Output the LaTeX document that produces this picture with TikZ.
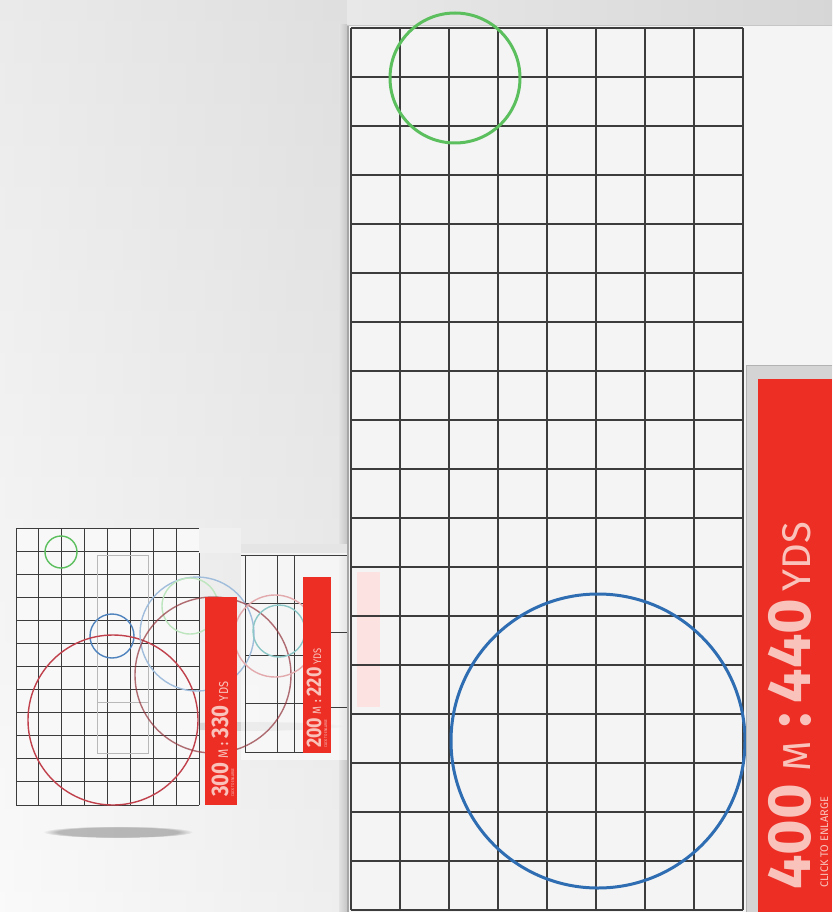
\documentclass[tikz,border=0pt]{standalone}
\usepackage{fontspec}
\setmainfont{Fira Sans}
\newfontfamily\labfont{Fira Sans}
\newfontfamily\smallfont[FakeStretch=0.85]{Fira Sans}
\usetikzlibrary{fadings}
\definecolor{bgtop}{HTML}{E2E2E2}
\definecolor{bgbot}{HTML}{F8F8F8}
\definecolor{panelc}{HTML}{F4F4F4}
\definecolor{gridc}{HTML}{3C3C3C}
\definecolor{redc}{HTML}{EC2E25}
\definecolor{txtc}{HTML}{F9C3BB}
\definecolor{greenc}{HTML}{5BBF5E}
\definecolor{bluec}{HTML}{2F6DB2}
\definecolor{rosec}{HTML}{C0414C}
\definecolor{frameg}{HTML}{D4D4D4}
\tikzset{
  bigline/.style={draw=gridc, line width=1.1pt},
  smallline/.style={draw=gridc, line width=1pt},
  faintline/.style={draw=gray!55, line width=0.8pt},
  ring/.style={line width=3pt},
  thinring/.style={line width=1.4pt},
  labeltext/.style={rotate=90, anchor=base west, inner sep=0pt, text=txtc, font=\labfont},
  smalltext/.style={rotate=90, anchor=base west, inner sep=0pt, text=txtc, font=\smallfont},
}
\begin{document}
\begin{tikzpicture}[x=1pt,y=-1pt]
\useasboundingbox (0,0) rectangle (832,912);
% background
\shade[top color=bgtop, bottom color=bgbot] (0,0) rectangle (832,912);
\shade[left color=white, right color=gray!30, opacity=0.3] (0,0) rectangle (347,912);
% top band behind big panel
\shade[left color=gray!18, right color=gray!32] (347,0) rectangle (832,26);
% big panel
\fill[panelc] (347,25) rectangle (832,912);
\shade[left color=bgtop, right color=gray!45] (339,25) rectangle (347,912);
\draw[gray!70, line width=1.2pt] (348,25) -- (348,912);
\draw[gray!45, line width=1pt] (347,25.5) -- (832,25.5);
% faint pink reflection
\fill[redc!14] (357,572) rectangle (380,707);
% big grid: 8 x 18 cells of 49
\foreach \i in {0,...,8} \draw[bigline] (351+49*\i,28) -- (351+49*\i,910);
\foreach \j in {0,...,18} \draw[bigline] (351,28+49*\j) -- (743,28+49*\j);
% big circles
\draw[greenc, ring] (455,78) circle (65);
\draw[bluec, ring] (598,741) circle (147);
% label frame
\fill[frameg] (746,365) rectangle (832,912);
\draw[gray!60, line width=1pt] (746.5,365) -- (746.5,912);
\draw[gray!60, line width=1pt] (746,365.5) -- (832,365.5);
\fill[redc] (758,379) rectangle (832,912);
\node[labeltext] (t400) at (810,890) {\fontsize{61}{61}\selectfont\bfseries 400\hspace{12pt}\fontsize{39}{39}\selectfont\mdseries M\hspace{14pt}\fontsize{61}{61}\selectfont\bfseries:\hspace{10pt}\fontsize{61}{61}\selectfont\bfseries 440\hspace{7pt}\fontsize{40}{40}\selectfont\mdseries YDS};
\node[labeltext, font=\labfont\fontsize{11}{11}\selectfont] (s400) at (828,888) {CLICK TO ENLARGE};

% ---------- left thumbnails ----------
% shadows
\fill[black, opacity=0.25, path fading=circle with fuzzy edge 20 percent] (118,832) ellipse (75 and 6);
\fill[black, opacity=0.10, path fading=circle with fuzzy edge 20 percent] (250,726) ellipse (95 and 5);
% grid A: 8 x 12
\fill[panelc!60!white] (16,528) rectangle (199,805);
\foreach \i in {0,...,8} \draw[smallline] (16+22.875*\i,528) -- (16+22.875*\i,805);
\foreach \j in {0,...,12} \draw[smallline] (16,528+23.083*\j) -- (199,528+23.083*\j);
\draw[faintline] (97,555) rectangle (148,753);
\draw[faintline] (97,702) -- (148,702);
\draw[greenc, thinring] (61,552) circle (16);
\draw[bluec!85, thinring] (112,636) circle (22);
\draw[rosec, thinring] (113,720) circle (85);
% header strips
\fill[gray!12] (199,528) rectangle (241,553);
\fill[gray!20] (241,544) rectangle (347,555);
% 200m panel
\fill[white, opacity=0.55] (241,553) rectangle (347,760);
\draw[smallline] (241,555) -- (347,555);
\foreach \x in {245,277,294} \draw[smallline] (\x,555) -- (\x,752);
\foreach \y in {603,655,703,752} \draw[smallline] (245,\y) -- (303,\y);
\foreach \y in {632,707} \draw[smallline] (331,\y) -- (347,\y);
% faint circles of middle thumbnails
\draw[bluec!45, thinring] (197,634) circle (57);
\draw[greenc!40, thinring] (190,606) circle (28);
\draw[rosec!75!black, thinring, opacity=0.7] (213,675) circle (78);
\draw[rosec!45, thinring] (275,636) circle (41);
\draw[teal!45, thinring] (279,631) circle (26);
% small labels
\fill[redc] (205,597) rectangle (237,805);
\node[smalltext] (t300) at (228,797) {\fontsize{24}{24}\selectfont\bfseries 300\hspace{4pt}\fontsize{14}{14}\selectfont\mdseries M\hspace{4pt}\bfseries:\hspace{4pt}\fontsize{24}{24}\selectfont\bfseries 330\hspace{4pt}\fontsize{13}{13}\selectfont\mdseries YDS};
\node[smalltext, font=\smallfont\fontsize{4}{4}\selectfont] (s300) at (234,797) {CLICK TO ENLARGE};
\fill[redc] (303,577) rectangle (331,753);
\node[smalltext] (t200) at (321,748) {\fontsize{21}{21}\selectfont\bfseries 200\hspace{3pt}\fontsize{12}{12}\selectfont\mdseries M\hspace{4pt}\bfseries:\hspace{4pt}\fontsize{21}{21}\selectfont\bfseries 220\hspace{3pt}\fontsize{11}{11}\selectfont\mdseries YDS};
\node[smalltext, font=\smallfont\fontsize{4}{4}\selectfont] (s200) at (327,748) {CLICK TO ENLARGE};
\end{tikzpicture}
\end{document}
